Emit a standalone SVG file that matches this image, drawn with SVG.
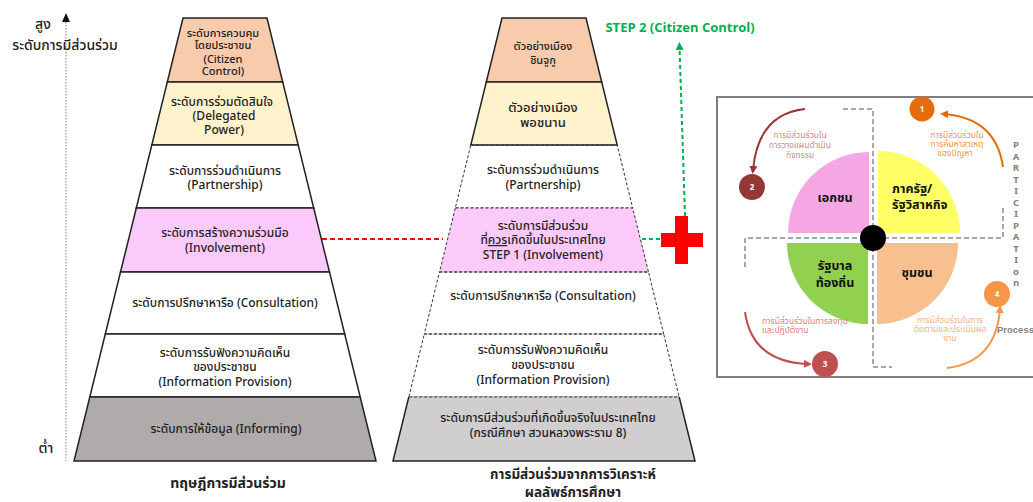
<svg xmlns="http://www.w3.org/2000/svg" width="1033" height="502" viewBox="0 0 1033 502">
<defs>
<style>
text{font-family:"Noto Sans Thai","Noto Sans","DejaVu Sans",sans-serif;fill:#222;text-anchor:middle;font-weight:500}
.t{font-size:12px}
.ts{font-size:11px}
.cap{font-size:14px;font-weight:bold}
.cap2{font-size:13.5px;font-weight:bold}
.lvl{stroke:#222;stroke-width:1.5}
.dl{stroke:#333;stroke-width:1;stroke-dasharray:3 2;fill:none}
.gd{stroke:#A6A6A6;stroke-width:2;stroke-dasharray:5 3;fill:none}
.q{font-size:12.5px;font-weight:bold;fill:#111}
.sm{font-size:8.5px;font-weight:normal}
.num{font-size:8px;font-weight:bold;fill:#fff}
.pl{font-size:9.5px;font-weight:bold;fill:#808080}
</style>
<marker id="ag" viewBox="0 0 10 10" refX="5" refY="5" markerWidth="4" markerHeight="4" orient="auto"><path d="M0,0L10,5L0,10z" fill="#00B050"/></marker>
<marker id="a1" viewBox="0 0 10 10" refX="5" refY="5" markerWidth="4" markerHeight="4" orient="auto"><path d="M0,0L10,5L0,10z" fill="#E46C0A"/></marker>
<marker id="a2" viewBox="0 0 10 10" refX="5" refY="5" markerWidth="4" markerHeight="4" orient="auto"><path d="M0,0L10,5L0,10z" fill="#953735"/></marker>
<marker id="a3" viewBox="0 0 10 10" refX="5" refY="5" markerWidth="4" markerHeight="4" orient="auto"><path d="M0,0L10,5L0,10z" fill="#C0504D"/></marker>
<marker id="a4" viewBox="0 0 10 10" refX="5" refY="5" markerWidth="4" markerHeight="4" orient="auto"><path d="M0,0L10,5L0,10z" fill="#F79646"/></marker>
</defs>
<rect width="1033" height="502" fill="#fff"/>

<g id="axis">
<line x1="66" y1="22" x2="66" y2="461" stroke="#AAA" stroke-width="1.5" stroke-dasharray="1.5 1.5"/>
<path d="M62,22L66,13L70,22z" fill="#111"/>
<text style="font-size:14px"><tspan x="43" y="29">สูง</tspan><tspan x="65" y="50">ระดับการมีส่วนร่วม</tspan></text>
<text x="46" y="453" style="font-size:14px">ต่ำ</text>
</g>

<g id="left-pyramid">
<g id="L1"><polygon class="lvl" points="183,18 267,18 282.7,82 167.3,82" fill="#F8CBAD"/>
<text class="ts"><tspan x="223" y="37">ระดับการควบคุม</tspan><tspan x="223" y="49">โดยประชาชน</tspan><tspan x="223" y="63">(Citizen</tspan><tspan x="223" y="75">Control)</tspan></text></g>
<g id="L2"><polygon class="lvl" points="167.3,82 282.7,82 298.2,145 151.8,145" fill="#FFF2CC"/>
<text class="t"><tspan x="222" y="106">ระดับการร่วมตัดสินใจ</tspan><tspan x="224" y="120">(Delegated</tspan><tspan x="224" y="134">Power)</tspan></text></g>
<g id="L3"><polygon class="lvl" points="151.8,145 298.2,145 313.7,208 136.3,208" fill="#fff"/>
<text class="t"><tspan x="225" y="175">ระดับการร่วมดำเนินการ</tspan><tspan x="225" y="189">(Partnership)</tspan></text></g>
<g id="L4"><polygon class="lvl" points="136.3,208 313.7,208 329.5,272 120.5,272" fill="#FBCAFB"/>
<text class="t"><tspan x="225" y="237">ระดับการสร้างความร่วมมือ</tspan><tspan x="225" y="252">(Involvement)</tspan></text></g>
<g id="L5"><polygon class="lvl" points="120.5,272 329.5,272 344.7,334 105.3,334" fill="#fff"/>
<text class="t" x="225" y="307">ระดับการปรึกษาหารือ (Consultation)</text></g>
<g id="L6"><polygon class="lvl" points="105.3,334 344.7,334 360.2,397 89.8,397" fill="#fff"/>
<text class="t"><tspan x="225" y="357">ระดับการรับฟังความคิดเห็น</tspan><tspan x="225" y="371">ของประชาชน</tspan><tspan x="225" y="386">(Information Provision)</tspan></text></g>
<g id="L7"><polygon class="lvl" points="89.8,397 360.2,397 376,461 74,461" fill="#AFABAB"/>
<text class="t" x="226" y="433">ระดับการให้ข้อมูล (Informing)</text></g>
<text class="cap" x="228" y="488">ทฤษฎีการมีส่วนร่วม</text>
</g>

<g id="mid-pyramid">
<g id="M1"><polygon class="lvl" points="502,18 586,18 601.7,82 486.3,82" fill="#F8CBAD"/>
<text class="ts"><tspan x="543" y="50">ตัวอย่างเมือง</tspan><tspan x="543" y="64">ชินจูกู</tspan></text></g>
<g id="M2"><polygon class="lvl" points="486.3,82 601.7,82 617.2,145 470.8,145" fill="#FFF2CC"/>
<text class="t" style="font-size:13px"><tspan x="543" y="112">ตัวอย่างเมือง</tspan><tspan x="543" y="127">พอชนาน</tspan></text></g>
<g id="M3"><polygon class="dl" points="470.8,145 617.2,145 632.7,208 455.3,208" fill="#fff"/>
<text class="t"><tspan x="543" y="174">ระดับการร่วมดำเนินการ</tspan><tspan x="543" y="189">(Partnership)</tspan></text></g>
<g id="M4"><polygon class="dl" points="455.3,208 632.7,208 648.5,272 439.5,272" style="fill:#FBCAFB"/>
<text class="t"><tspan x="543" y="230">ระดับการมีส่วนร่วม</tspan><tspan x="543" y="244">ที่<tspan text-decoration="underline">ควร</tspan>เกิดขึ้นในประเทศไทย</tspan><tspan x="543" y="259">STEP 1 (Involvement)</tspan></text></g>
<g id="M5"><polygon class="dl" points="439.5,272 648.5,272 663.7,334 424.3,334" fill="#fff"/>
<text class="t" x="543" y="300">ระดับการปรึกษาหารือ (Consultation)</text></g>
<g id="M6"><polygon class="dl" points="424.3,334 663.7,334 679.2,397 408.8,397" fill="#fff"/>
<text class="t"><tspan x="543" y="354">ระดับการรับฟังความคิดเห็น</tspan><tspan x="543" y="369">ของประชาชน</tspan><tspan x="543" y="384">(Information Provision)</tspan></text></g>
<g id="M7"><polygon points="408.8,397 679.2,397 695,461 393,461" fill="#D0CECE"/>
<path d="M408.8,397L393,461L695,461L679.2,397" class="lvl" fill="none"/>
<line x1="408.8" y1="397" x2="679.2" y2="397" class="dl"/>
<text class="t"><tspan x="548" y="422">ระดับการมีส่วนร่วมที่เกิดขึ้นจริงในประเทศไทย</tspan><tspan x="548" y="437">(กรณีศึกษา สวนหลวงพระราม 8)</tspan></text></g>
<text class="cap2"><tspan x="573" y="479">การมีส่วนร่วมจากการวิเคราะห์</tspan><tspan x="573" y="497">ผลลัพธ์การศึกษา</tspan></text>
</g>

<g id="connectors">
<line x1="322" y1="239" x2="443" y2="239" stroke="#FF0000" stroke-width="2" stroke-dasharray="5 3"/>
<line x1="642" y1="239" x2="661" y2="239" stroke="#00B050" stroke-width="2" stroke-dasharray="4 3"/>
<line x1="685" y1="216" x2="679.5" y2="46" stroke="#00B050" stroke-width="2" stroke-dasharray="4 3" marker-end="url(#ag)"/>
</g>

<g id="step2">
<text x="680" y="32" style="font-size:13px;font-weight:bold;fill:#00B050">STEP 2 (Citizen Control)</text>
</g>

<g id="plus">
<rect x="661" y="233" width="42" height="14" fill="#FF0000"/>
<rect x="675" y="216" width="13" height="48" fill="#FF0000"/>
</g>

<g id="panel">
<rect x="717" y="97" width="340" height="280" fill="#fff" stroke="#7F7F7F" stroke-width="2"/>
<g id="q-private"><path d="M869,233L788,233A81,81 0 0 1 869,152z" fill="#F4A7E3"/><text class="q" x="835" y="202">เอกชน</text></g>
<g id="q-state"><path d="M878,233L878,151A82,82 0 0 1 960,233z" fill="#FFFF66"/><text class="q" style="text-anchor:start"><tspan x="892" y="193">ภาครัฐ/</tspan><tspan x="892" y="209">รัฐวิสาหกิจ</tspan></text></g>
<g id="q-local"><path d="M868,243L868,324A81,81 0 0 1 787,243z" fill="#92D050"/><text class="q"><tspan x="835" y="270">รัฐบาล</tspan><tspan x="835" y="287">ท้องถิ่น</tspan></text></g>
<g id="q-community"><path d="M877,243L958,243A81,81 0 0 1 877,324z" fill="#F8C08F"/><text class="q" x="917" y="277">ชุมชน</text></g>
<path class="gd" d="M843,109H873V367H892"/>
<path class="gd" d="M745,267V238H1003V208"/>
<circle cx="873" cy="238" r="13" fill="#000"/>
<g id="n1"><circle cx="922" cy="109" r="12.5" fill="#E46C0A"/><text class="num" x="922" y="112">1</text></g>
<g id="n2"><circle cx="752" cy="187" r="13" fill="#953735"/><text class="num" x="752" y="190">2</text></g>
<g id="n3"><circle cx="825" cy="364" r="13" fill="#C0504D"/><text class="num" x="825" y="367">3</text></g>
<g id="n4"><circle cx="997" cy="294" r="13" fill="#F79646"/><text class="num" x="997" y="297">4</text></g>
<path d="M1003,167Q996,118 944,114" fill="none" stroke="#E46C0A" stroke-width="2" marker-end="url(#a1)"/>
<path d="M805,109Q758,114 753,170" fill="none" stroke="#953735" stroke-width="2" marker-end="url(#a2)"/>
<path d="M745,312Q752,362 808,364" fill="none" stroke="#C0504D" stroke-width="2" marker-end="url(#a3)"/>
<path d="M947,368Q996,362 1000,309" fill="none" stroke="#F79646" stroke-width="2" marker-end="url(#a4)"/>
<text class="sm" style="fill:#C98B8B"><tspan x="800" y="138">การมีส่วนร่วมใน</tspan><tspan x="800" y="148">การวางแผนดำเนิน</tspan><tspan x="800" y="158">กิจกรรม</tspan></text>
<text class="sm" style="fill:#F79646"><tspan x="957" y="138">การมีส่วนร่วมใน</tspan><tspan x="957" y="147">การค้นหาสาเหตุ</tspan><tspan x="955" y="156">ของปัญหา</tspan></text>
<text class="sm" style="fill:#E57C7C;text-anchor:start"><tspan x="762" y="324">การมีส่วนร่วมในการลงทุน</tspan><tspan x="762" y="333">และปฏิบัติงาน</tspan></text>
<text class="sm" style="fill:#F4B183"><tspan x="950" y="323">การมีส่วนร่วมในการ</tspan><tspan x="950" y="332">ติดตามและประเมินผล</tspan><tspan x="950" y="341">งาน</tspan></text>
<text id="participation" class="pl"><tspan x="1016" y="148">P</tspan><tspan x="1016" dy="11.5">A</tspan><tspan x="1016" dy="11.5">R</tspan><tspan x="1016" dy="11.5">T</tspan><tspan x="1016" dy="11.5">I</tspan><tspan x="1016" dy="11.5">C</tspan><tspan x="1016" dy="11.5">I</tspan><tspan x="1016" dy="11.5">P</tspan><tspan x="1016" dy="11.5">A</tspan><tspan x="1016" dy="11.5">T</tspan><tspan x="1016" dy="11.5">I</tspan><tspan x="1016" dy="11.5">o</tspan><tspan x="1016" dy="11.5">n</tspan></text>
<text x="997" y="333" style="font-family:'Liberation Sans',sans-serif;font-size:9.5px;font-weight:bold;fill:#7F7F7F;text-anchor:start">Process</text>
</g>
</svg>
